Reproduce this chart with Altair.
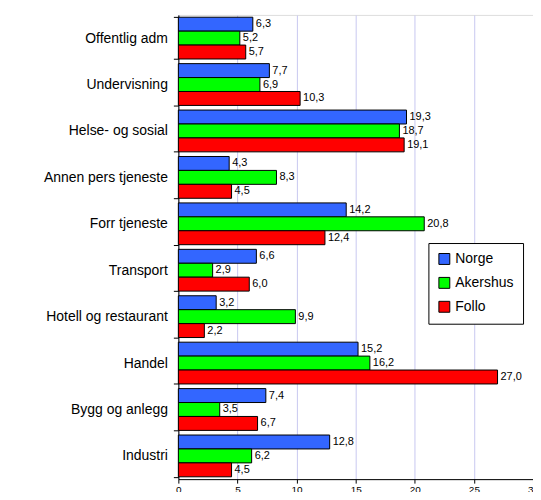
import altair as alt
import pandas as pd

categories = ["Offentlig adm", "Undervisning", "Helse- og sosial", "Annen pers tjeneste",
              "Forr tjeneste", "Transport", "Hotell og restaurant", "Handel",
              "Bygg og anlegg", "Industri"]
series = ["Norge", "Akershus", "Follo"]
norge = [6.3, 7.7, 19.3, 4.3, 14.2, 6.6, 3.2, 15.2, 7.4, 12.8]
akershus = [5.2, 6.9, 18.7, 8.3, 20.8, 2.9, 9.9, 16.2, 3.5, 6.2]
follo = [5.7, 10.3, 19.1, 4.5, 12.4, 6.0, 2.2, 27.0, 6.7, 4.5]
colors = ["#3366FF", "#00FF00", "#FF0000"]

rows = []
for s, vals in zip(series, [norge, akershus, follo]):
    for c, v in zip(categories, vals):
        rows.append({"kategori": c, "serie": s, "verdi": v,
                     "tekst": f"{v:.1f}".replace(".", ",")})
df = pd.DataFrame(rows)

font = "Liberation Sans"

base = alt.Chart(df).encode(
    y=alt.Y("kategori:N", sort=categories, title=None,
            scale=alt.Scale(paddingInner=0.1, paddingOuter=0.05),
            axis=alt.Axis(labelFontSize=14, labelFont=font, labelColor="black",
                          tickBand="extent", tickColor="black", tickSize=5,
                          domainColor="black", labelPadding=6)),
    yOffset=alt.YOffset("serie:N", sort=series),
)

bars = base.mark_bar(stroke="black", strokeWidth=1).encode(
    x=alt.X("verdi:Q", title=None,
            scale=alt.Scale(domain=[0, 30], nice=False),
            axis=alt.Axis(values=[0, 5, 10, 15, 20, 25, 30], labelFontSize=10,
                          labelFont=font, labelColor="black", tickColor="black",
                          domainColor="black", gridColor="#C8C8F0", tickSize=4,
                          labelPadding=1, labelFlush=False)),
    color=alt.Color("serie:N", sort=series,
                    scale=alt.Scale(domain=series, range=colors),
                    legend=alt.Legend(title=None, orient="none", legendX=251, legendY=229,
                                      labelFontSize=14, labelFont=font, labelColor="black",
                                      symbolType="square", symbolSize=120,
                                      symbolStrokeColor="black", symbolStrokeWidth=1,
                                      strokeColor="black", fillColor="white",
                                      padding=9, rowPadding=8)),
)

labels = base.mark_text(align="left", baseline="middle", dx=3, fontSize=11,
                        font=font, color="black").encode(
    x=alt.X("verdi:Q"),
    text="tekst:N",
)

chart = (bars + labels).properties(
    width=356, height=466,
    autosize=alt.AutoSizeParams(type="none"),
    padding={"left": 171, "top": 6, "right": 0, "bottom": 12},
).configure_view(stroke="#909090").configure(background="white")

chart.save("out.html", embed_options={"renderer": "svg", "actions": False})
